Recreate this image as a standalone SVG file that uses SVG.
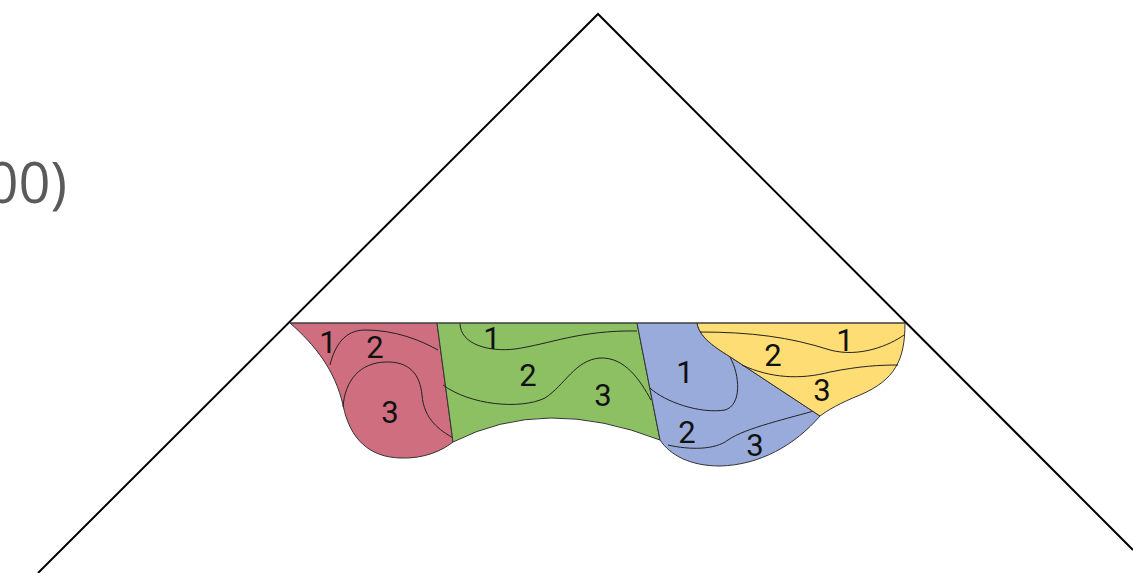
<svg xmlns="http://www.w3.org/2000/svg" width="1133" height="573" viewBox="0 0 1133 573">
<style>
.lbl{font-family:Roboto,"Liberation Sans",sans-serif;font-size:31px;fill:#111;text-anchor:middle}
.c{fill:none;stroke:#222;stroke-width:1}
.reg{stroke:#333;stroke-width:1}
</style>
<rect width="1133" height="573" fill="#fff"/>
<text x="67" y="203" font-family="'Open Sans',sans-serif" font-size="56" fill="#5a5a5a" text-anchor="end">00)</text>
<g id="red">
<path class="reg" fill="#CF6E7E" d="M290,323 L437,323 L453,442 C443,450 425,459 400,458 C370,457 350,440 343,405 C335,370 315,345 290,323 Z"/>
<path class="c" d="M330,365 C335,345 345,330 365,330 C395,330 420,340 438,350"/>
<path class="c" d="M343,407 C345,380 360,363 385,362 C410,361 420,375 422,395 C424,420 440,430 453,438"/>
<text class="lbl" x="328" y="353">1</text>
<text class="lbl" x="375" y="358">2</text>
<text class="lbl" x="390" y="423">3</text>
</g>
<g id="green">
<path class="reg" fill="#8DC063" d="M437,323 L637,323 L660,440 Q545,395 453,442 Z"/>
<path class="c" d="M460,323 C460,345 490,352 515,349 C550,344 580,330 637,331"/>
<path class="c" d="M443,385 C470,405 520,410 545,398 C565,385 575,360 600,358 C625,357 640,380 651,400"/>
<text class="lbl" x="492" y="349">1</text>
<text class="lbl" x="528" y="386">2</text>
<text class="lbl" x="603" y="406">3</text>
</g>
<g id="blue">
<path class="reg" fill="#98ABDA" d="M637,323 L697,323 C700,340 720,350 735,360 L820,416 C795,445 760,465 720,466 C690,466 670,455 660,440 Z"/>
<path class="c" d="M650,388 C665,402 700,414 725,410 C742,405 740,375 730,357"/>
<path class="c" d="M668,445 C690,450 715,450 728,440 C745,428 790,418 817,410"/>
<text class="lbl" x="685" y="383">1</text>
<text class="lbl" x="687" y="443">2</text>
<text class="lbl" x="755" y="456">3</text>
</g>
<g id="yellow">
<path class="reg" fill="#FFDD75" d="M697,323 L905,323 C905,360 895,380 860,395 C840,403 828,410 820,416 L735,360 C720,350 700,340 697,323 Z"/>
<path class="c" d="M700,332 C750,332 790,337 830,350 C860,358 890,345 904,335"/>
<path class="c" d="M742,365 C770,378 800,380 830,372 C860,366 880,365 898,365"/>
<text class="lbl" x="845" y="351">1</text>
<text class="lbl" x="773" y="366">2</text>
<text class="lbl" x="822" y="401">3</text>
</g>
<g id="connectors">
<line x1="290" y1="323" x2="905" y2="323" stroke="#444" stroke-width="1.2"/>
<polyline points="38,573 598,14 1133,550" fill="none" stroke="#000" stroke-width="2"/>
</g>
</svg>
